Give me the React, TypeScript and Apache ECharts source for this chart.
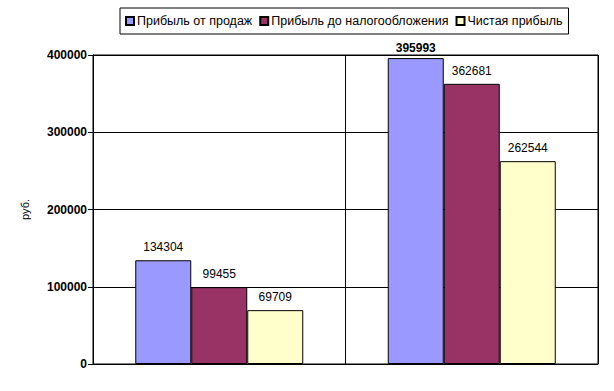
import React, { useEffect, useRef } from "react";
import * as echarts from "echarts";

const categories = ["1", "2"];
const seriesNames = ["Прибыль от продаж", "Прибыль до налогообложения", "Чистая прибыль"];
const salesProfit = [134304, 395993];
const preTaxProfit = [99455, 362681];
const netProfit = [69709, 262544];
const colors = ["#9999FF", "#993366", "#FFFFCC"];

export default function App() {
  const ref = useRef<HTMLDivElement>(null);
  useEffect(() => {
    const chart = echarts.init(ref.current!, undefined, { renderer: "svg" });
    const values = [salesProfit, preTaxProfit, netProfit];
    chart.setOption({
      animation: false,
      textStyle: { fontFamily: "Arial, 'Liberation Sans', sans-serif" },
      legend: {
        top: 8,
        left: 120,
        itemWidth: 8,
        itemHeight: 8,
        itemGap: 7,
        padding: [6, 6, 6, 5],
        borderColor: "#000",
        borderWidth: 1,
        icon: "rect",
        textStyle: { fontSize: 12.5, color: "#000", padding: [0, 0, 0, -2], lineHeight: 14 },
        data: seriesNames,
      },
      grid: { left: 93, right: 16, top: 55, bottom: 27, show: true, borderColor: "#000", borderWidth: 1 },
      xAxis: {
        type: "category",
        data: categories,
        axisLabel: { show: false },
        axisTick: { show: false },
        axisLine: { lineStyle: { color: "#000" } },
        splitLine: { show: true, lineStyle: { color: "#000" } },
      },
      yAxis: {
        type: "value",
        min: 0,
        max: 400000,
        interval: 100000,
        name: "руб.",
        nameLocation: "middle",
        nameGap: 63,
        nameTextStyle: { fontSize: 11, color: "#000" },
        axisLine: { show: true, lineStyle: { color: "#000" } },
        axisTick: { show: true, length: 5, lineStyle: { color: "#000" } },
        axisLabel: { fontSize: 12, fontWeight: "bold", color: "#000", margin: 6, formatter: (v: number) => String(v) },
        splitLine: { show: true, lineStyle: { color: "#000" } },
      },
      series: seriesNames.map((name, i) => ({
        name,
        type: "bar",
        barWidth: 56,
        barGap: "0%",
        itemStyle: { color: colors[i], borderColor: "#000", borderWidth: 1 },
        label: { show: true, position: "top", distance: 7, fontSize: 12, color: "#000" },
        data: values[i].map((v, j) =>
          i === 0 && j === 1 ? { value: v, label: { fontWeight: "bold", distance: 4 } } : v
        ),
      })),
    });
    return () => chart.dispose();
  }, []);
  return <div ref={ref} style={{ width: 614, height: 391, position: "absolute", left: 0, top: 0, background: "#fff" }} />;
}
